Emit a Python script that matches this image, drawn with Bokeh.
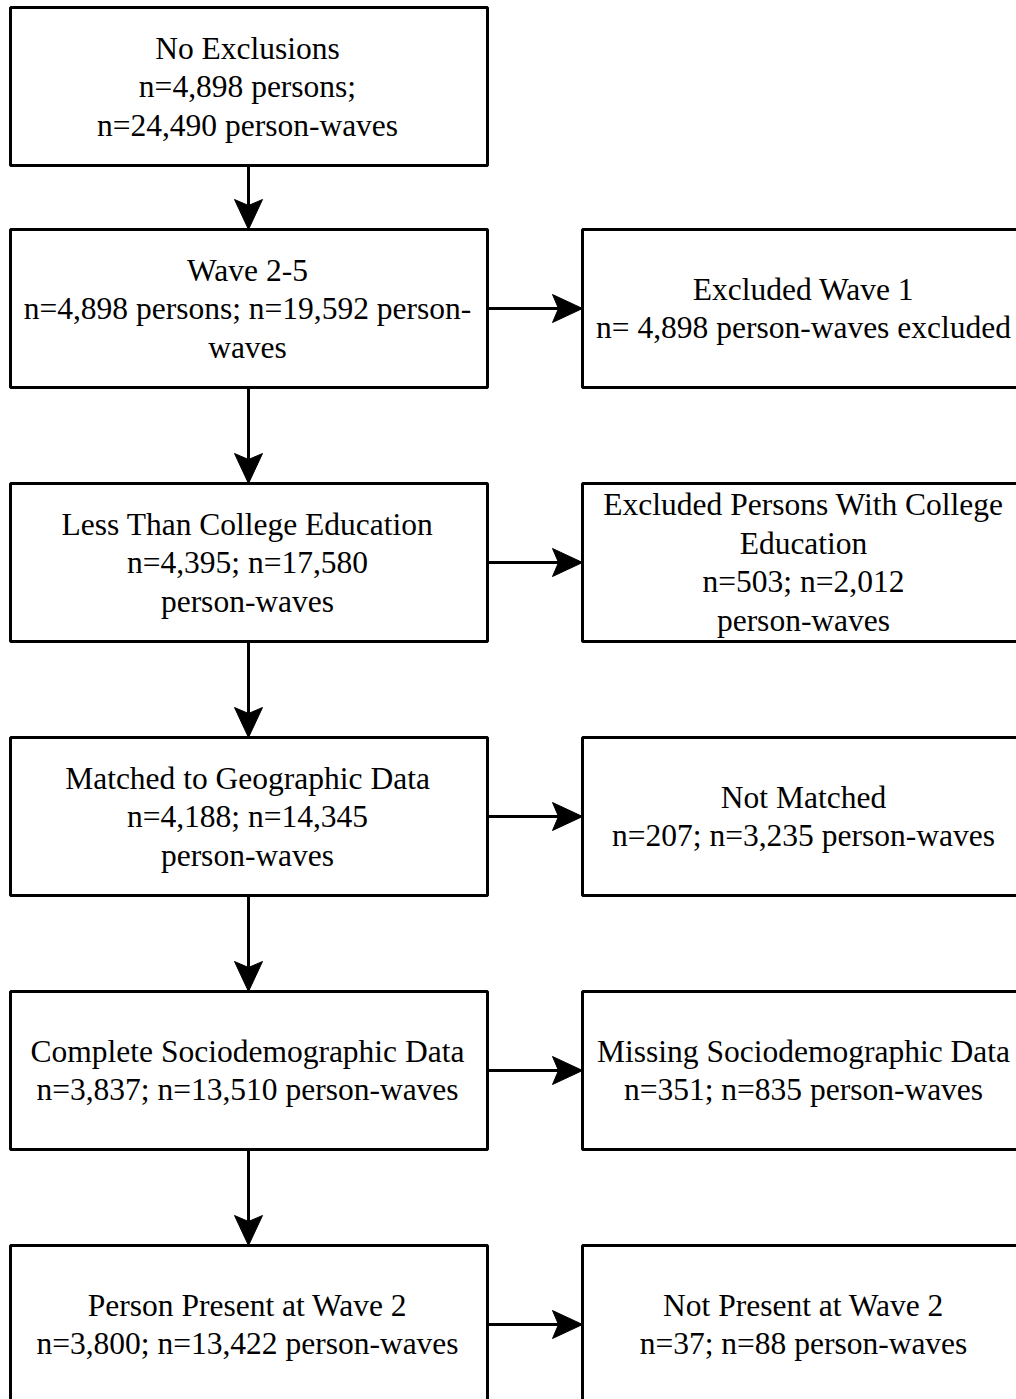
from bokeh.plotting import figure
from bokeh.models import Range1d, ColumnDataSource
from bokeh.core.properties import value
from bokeh.embed import file_html
from bokeh.resources import INLINE

# ---- data: flow stages ----
main_labels = [
    "No Exclusions\nn=4,898 persons;\nn=24,490 person-waves",
    "Wave 2-5\nn=4,898 persons; n=19,592 person-\nwaves",
    "Less Than College Education\nn=4,395; n=17,580\nperson-waves",
    "Matched to Geographic Data\nn=4,188; n=14,345\nperson-waves",
    "Complete Sociodemographic Data\nn=3,837; n=13,510 person-waves",
    "Person Present at Wave 2\nn=3,800; n=13,422 person-waves",
]
excl_labels = [
    "Excluded Wave 1\nn= 4,898 person-waves excluded",
    "Excluded Persons With College\nEducation\nn=503; n=2,012\nperson-waves",
    "Not Matched\nn=207; n=3,235 person-waves",
    "Missing Sociodemographic Data\nn=351; n=835 person-waves",
    "Not Present at Wave 2\nn=37; n=88 person-waves",
]

# ---- layout (pixel-like coordinates, y downward) ----
row_tops = [7, 229, 483, 737, 991, 1245]
box_h = 158
L0, L1 = 10, 487
R0, R1 = 582, 1030
cx_left = 248
cx_text_left = 247
cx_right = 803
lw = 3
FONT = "Liberation Serif"
FS = "31.5px"
W, H = 1016, 1399

p = figure(width=W, height=H, output_backend="svg", toolbar_location=None,
           x_range=Range1d(0, W), y_range=Range1d(H, 0),
           x_axis_location=None, y_axis_location=None, min_border=0,
           outline_line_color=None, background_fill_color="white",
           border_fill_color="white")
p.grid.visible = False

# main boxes
mb = dict(left=[L0] * len(main_labels), right=[L1] * len(main_labels),
          top=[row_tops[i] for i in range(len(main_labels))],
          bottom=[row_tops[i] + box_h for i in range(len(main_labels))])
p.quad(source=ColumnDataSource(mb), left="left", right="right", top="top", bottom="bottom",
       fill_color="white", line_color="black", line_width=lw)

# exclusion boxes (rows 1..)
eb = dict(left=[R0] * len(excl_labels), right=[R1] * len(excl_labels),
          top=[row_tops[i + 1] for i in range(len(excl_labels))],
          bottom=[row_tops[i + 1] + box_h for i in range(len(excl_labels))])
p.quad(source=ColumnDataSource(eb), left="left", right="right", top="top", bottom="bottom",
       fill_color="white", line_color="black", line_width=lw)

# arrows
head_len, head_w, notch = 30, 14, 6
xs0, ys0, xs1, ys1 = [], [], [], []
hx, hy = [], []
for i in range(len(main_labels) - 1):
    y_start = row_tops[i] + box_h
    y_tip = row_tops[i + 1]
    xs0.append(cx_left); ys0.append(y_start); xs1.append(cx_left); ys1.append(y_tip - head_len + notch)
    hx.append([cx_left, cx_left - head_w, cx_left, cx_left + head_w])
    hy.append([y_tip, y_tip - head_len, y_tip - head_len + notch, y_tip - head_len])
for i in range(len(excl_labels)):
    yc = row_tops[i + 1] + box_h / 2
    xs0.append(L1); ys0.append(yc); xs1.append(R0 - head_len + notch); ys1.append(yc)
    hx.append([R0, R0 - head_len, R0 - head_len + notch, R0 - head_len])
    hy.append([yc, yc - head_w, yc, yc + head_w])
p.segment(x0=xs0, y0=ys0, x1=xs1, y1=ys1, line_color="black", line_width=lw)
p.patches(xs=hx, ys=hy, fill_color="black", line_color="black", line_width=1)

# texts
p.text(x=[cx_text_left] * len(main_labels),
       y=[row_tops[i] + box_h / 2 for i in range(len(main_labels))],
       text=main_labels, text_align="center", text_baseline="middle",
       text_font=value(FONT), text_font_size=FS, text_color="black",
       text_line_height=1.1)
p.text(x=[cx_right] * len(excl_labels),
       y=[row_tops[i + 1] + box_h / 2 for i in range(len(excl_labels))],
       text=excl_labels, text_align="center", text_baseline="middle",
       text_font=value(FONT), text_font_size=FS, text_color="black",
       text_line_height=1.1)

open("out.html", "w").write(file_html(p, INLINE))
